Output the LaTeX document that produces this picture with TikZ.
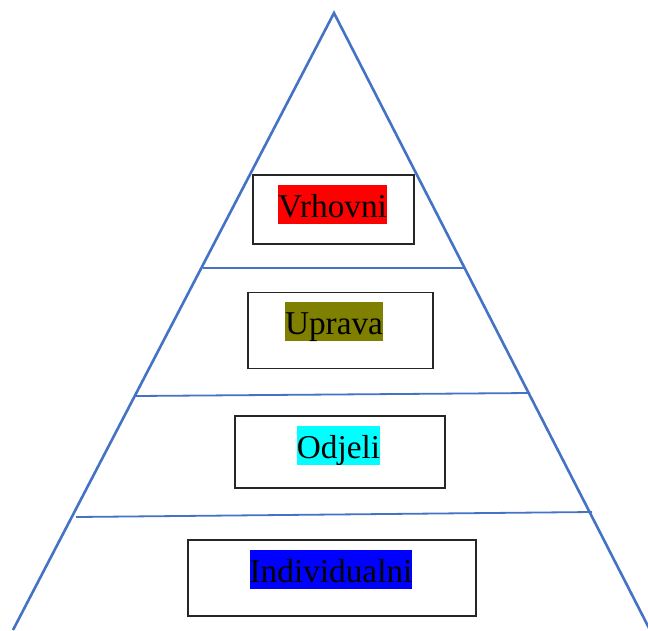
\documentclass[tikz,border=0pt]{standalone}
\usepackage{fontspec}
\setmainfont{Liberation Serif}
\definecolor{pyr}{HTML}{4472C4}
\definecolor{olivehl}{HTML}{808000}
\definecolor{cyanhl}{HTML}{00FFFF}
\definecolor{bluehl}{HTML}{0000FF}
\definecolor{redhl}{HTML}{FF0000}
\tikzset{
  side/.style={draw=pyr, line width=2.6pt},
  tier/.style={draw=pyr, line width=1.8pt},
  levelbox/.style={draw=black!85, line width=1.5pt, rectangle, inner sep=0pt},
  hl/.style={inner xsep=0pt, inner ysep=0pt, text height=32pt, text depth=6.5pt, anchor=base, font=\fontsize{33.3}{38}\selectfont}
}
\begin{document}
\begin{tikzpicture}[x=1pt,y=-1pt]
\useasboundingbox (0,0) rectangle (648,630);
\coordinate (apex) at (334,13);
\coordinate (bl) at (13,630);
\coordinate (br) at (650,630);
\clip (0,0) rectangle (648,630);
\draw[side] (bl) -- (apex) -- (br);
\coordinate (l1a) at (203,268); \coordinate (l1b) at (465,268);
\coordinate (l2a) at (136,396); \coordinate (l2b) at (530,393);
\coordinate (l3a) at (76,517);  \coordinate (l3b) at (592,512);
\draw[tier] (l1a) -- (l1b);
\draw[tier] (l2a) -- (l2b);
\draw[tier] (l3a) -- (l3b);
\node[levelbox, minimum width=161pt, minimum height=69pt] (b1) at (333.5,209.5) {};
\node[levelbox, minimum width=185pt, minimum height=76pt] (b2) at (340.5,330.5) {};
\node[levelbox, minimum width=210pt, minimum height=72pt] (b3) at (340,452) {};
\node[levelbox, minimum width=288pt, minimum height=76pt] (b4) at (332,578) {};
\node[hl, fill=redhl] (t1) at (332.5,217) {Vrhovni};
\node[hl, fill=olivehl] (t2) at (334,334) {Uprava};
\node[hl, fill=cyanhl] (t3) at (338.5,458) {Odjeli};
\node[hl, fill=bluehl] (t4) at (331,582) {Individualni};
\end{tikzpicture}
\end{document}
